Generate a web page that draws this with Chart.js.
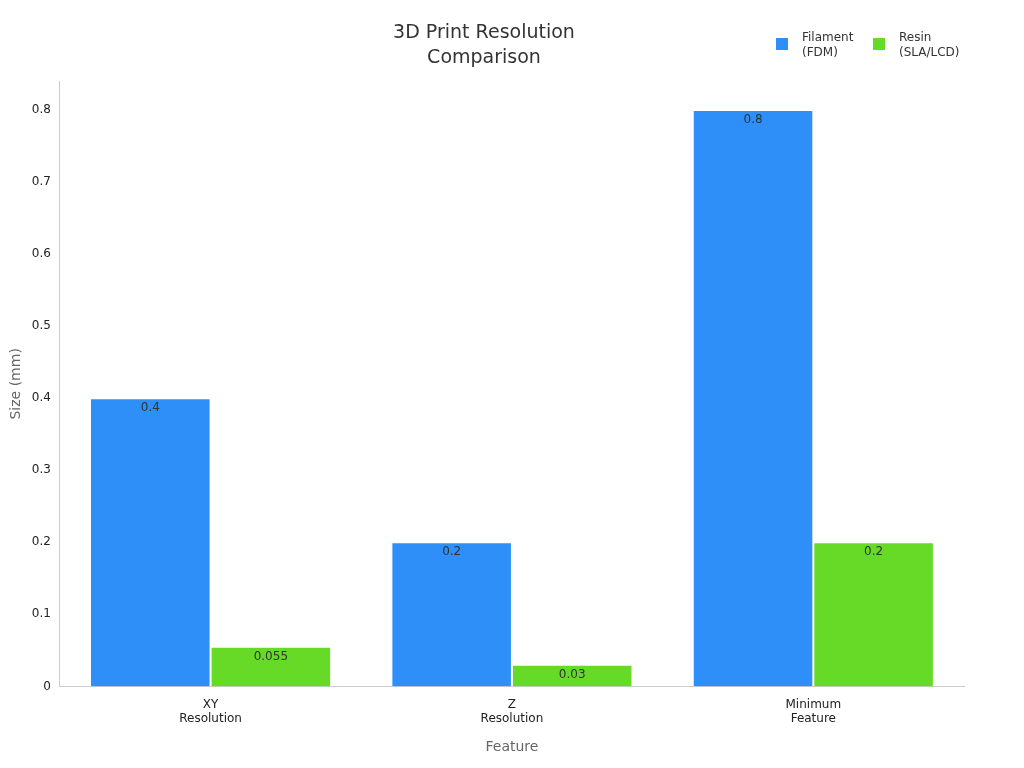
<!DOCTYPE html>
<html>
<head>
<meta charset="utf-8">
<script src="https://cdn.jsdelivr.net/npm/chart.js@4/dist/chart.umd.min.js"></script>
<style>
  html, body { margin: 0; padding: 0; background: #fff; }
  #wrap { width: 1024px; height: 768px; }
</style>
</head>
<body>
<div id="wrap"><canvas id="chart" width="1024" height="768"></canvas></div>
<script>
// Data
const categories = [['XY', 'Resolution'], ['Z', 'Resolution'], ['Minimum', 'Feature']];
const seriesNames = [['Filament', '(FDM)'], ['Resin', '(SLA/LCD)']];
const filament = [0.4, 0.2, 0.8];
const resin = [0.055, 0.03, 0.2];
const colors = ['#2d8ff7', '#66da26'];

// value labels inside the top of each bar
const barLabels = {
  id: 'barLabels',
  afterDatasetsDraw(chart) {
    const ctx = chart.ctx;
    ctx.save();
    ctx.font = '12px "DejaVu Sans", sans-serif';
    ctx.fillStyle = '#333';
    ctx.textAlign = 'center';
    ctx.textBaseline = 'middle';
    chart.data.datasets.forEach((ds, i) => {
      chart.getDatasetMeta(i).data.forEach((bar, j) => {
        ctx.fillText(String(ds.data[j]), bar.x, bar.y + 10);
      });
    });
    ctx.restore();
  }
};

// legend top right with two-line labels
const sideLegend = {
  id: 'sideLegend',
  afterDraw(chart) {
    const ctx = chart.ctx;
    ctx.save();
    ctx.font = '12px "DejaVu Sans", sans-serif';
    ctx.fillStyle = '#333';
    ctx.textBaseline = 'middle';
    const xs = [776, 873];
    seriesNames.forEach((name, i) => {
      ctx.fillStyle = colors[i];
      ctx.fillRect(xs[i], 38, 12, 12);
      ctx.fillStyle = '#333';
      ctx.fillText(name[0], xs[i] + 26, 38);
      ctx.fillText(name[1], xs[i] + 26, 53);
    });
    ctx.restore();
  }
};

new Chart(document.getElementById('chart').getContext('2d'), {
  type: 'bar',
  data: {
    labels: categories,
    datasets: [
      { label: 'Filament (FDM)', data: filament, backgroundColor: colors[0], borderColor: '#fff', borderWidth: 1 },
      { label: 'Resin (SLA/LCD)', data: resin, backgroundColor: colors[1], borderColor: '#fff', borderWidth: 1 }
    ]
  },
  options: {
    responsive: false,
    animation: false,
    layout: { padding: { left: 4, right: 60, top: 0, bottom: 8 } },
    datasets: { bar: { barPercentage: 1, categoryPercentage: 0.8 } },
    plugins: {
      legend: { display: false },
      tooltip: { enabled: false },
      title: {
        display: true,
        text: ['3D Print Resolution', 'Comparison'],
        color: '#333',
        font: { size: 19, weight: 'normal', family: '"DejaVu Sans", sans-serif', lineHeight: 1.35 },
        padding: { top: 20, bottom: 10 }
      }
    },
    scales: {
      x: {
        grid: { display: false, drawTicks: true },
        border: { color: '#ccc' },
        ticks: { color: '#222', font: { size: 12, family: '"DejaVu Sans", sans-serif' } },
        title: { display: true, text: 'Feature', color: '#666', font: { size: 14, family: '"DejaVu Sans", sans-serif' }, padding: { top: 10 } }
      },
      y: {
        min: 0, max: 0.84,
        grid: { display: false, drawTicks: true, tickLength: 6 },
        border: { color: '#ccc' },
        ticks: { stepSize: 0.1, color: '#222', font: { size: 12, family: '"DejaVu Sans", sans-serif' },
          callback: v => (Math.round(v * 10) / 10).toString() },
        afterBuildTicks: s => { s.ticks = s.ticks.filter(t => t.value <= 0.8001); },
        title: { display: true, text: 'Size (mm)', color: '#666', font: { size: 14, family: '"DejaVu Sans", sans-serif' } }
      }
    }
  },
  plugins: [barLabels, sideLegend]
});
</script>
</body>
</html>
